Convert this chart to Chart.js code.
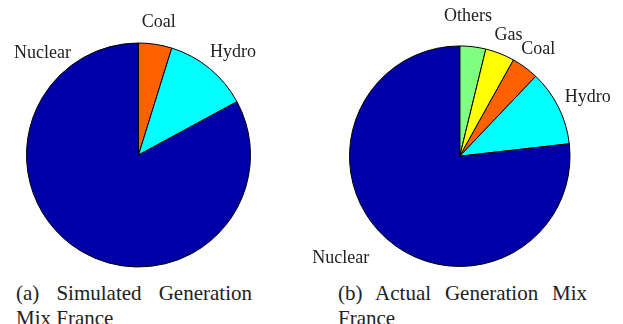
<!DOCTYPE html>
<html>
<head>
<meta charset="utf-8">
<script src="https://cdn.jsdelivr.net/npm/chart.js@4/dist/chart.umd.min.js"></script>
<style>
  html, body { margin: 0; padding: 0; background: #fff; }
  body { width: 623px; height: 324px; position: relative; overflow: hidden; }
  canvas { position: absolute; top: 0; }
  .caption {
    position: absolute;
    top: 281px;
    font-family: "Liberation Serif", "Times New Roman", serif;
    font-size: 21px;
    line-height: 25px;
    color: #222;
    text-align: justify;
  }
</style>
</head>
<body>
<canvas id="simulated" width="311" height="280" style="left:0"></canvas>
<canvas id="actual" width="312" height="280" style="left:311px"></canvas>
<div class="caption" style="left:16px;width:236px">(a) Simulated Generation Mix France</div>
<div class="caption" style="left:338px;width:249px">(b) Actual Generation Mix France</div>
<script>
// Generation mix shares (%)
const simulatedSources = ['Coal', 'Hydro', 'Nuclear'];
const simulatedShares = [4.8, 12.3, 82.9];

const actualSources = ['Others', 'Gas', 'Coal', 'Hydro', 'Nuclear'];
const actualShares = [3.8, 4.3, 4.0, 11.1, 76.8];

const sourceColors = {
  Others: '#80FF80',
  Gas: '#FFFF00',
  Coal: '#FF6000',
  Hydro: '#00FFFF',
  Nuclear: '#0000A8'
};

// Draws each slice name outside the pie. By default a label sits at 1.2 radii
// along the slice's mid-angle; `place` can nudge a label to another angle
// (degrees clockwise from 12 o'clock) and radius factor.
const sliceLabels = {
  id: 'sliceLabels',
  afterDraw(chart, args, opts) {
    const ctx = chart.ctx;
    const arcs = chart.getDatasetMeta(0).data;
    const names = chart.data.labels;
    ctx.save();
    ctx.font = '18px "Liberation Serif", "Times New Roman", serif';
    ctx.fillStyle = '#222';
    ctx.textAlign = 'center';
    ctx.textBaseline = 'middle';
    arcs.forEach((arc, i) => {
      const p = arc.getProps(['x', 'y', 'startAngle', 'endAngle', 'outerRadius'], true);
      const tweak = (opts.place || {})[names[i]];
      let ang = (p.startAngle + p.endAngle) / 2;
      let k = 1.2;
      if (tweak) {
        ang = tweak[0] * Math.PI / 180 - Math.PI / 2;
        k = tweak[1];
      }
      const r = p.outerRadius * k;
      ctx.fillText(names[i], p.x + r * Math.cos(ang), p.y + r * Math.sin(ang));
    });
    ctx.restore();
  }
};

function pieChart(id, sources, shares, padding, place) {
  return new Chart(document.getElementById(id), {
    type: 'pie',
    data: {
      labels: sources,
      datasets: [{
        data: shares,
        backgroundColor: sources.map(s => sourceColors[s]),
        borderColor: '#000',
        borderWidth: 1,
        hoverOffset: 0
      }]
    },
    options: {
      responsive: false,
      animation: false,
      devicePixelRatio: 1,
      layout: { padding },
      plugins: {
        legend: { display: false },
        tooltip: { enabled: false },
        sliceLabels: { place }
      },
      events: []
    },
    plugins: [sliceLabels]
  });
}

pieChart('simulated', simulatedSources, simulatedShares,
  { left: 26, right: 60, top: 42.5, bottom: 12.5 },
  { Hydro: [42.5, 1.25], Nuclear: [-43.3, 1.25] });

pieChart('actual', actualSources, actualShares,
  { left: 38, right: 52.5, top: 45.2, bottom: 12.8 },
  { Others: [3.4, 1.27], Gas: [22, 1.18], Hydro: [65.2, 1.28], Nuclear: [229.5, 1.42] });
</script>
</body>
</html>
